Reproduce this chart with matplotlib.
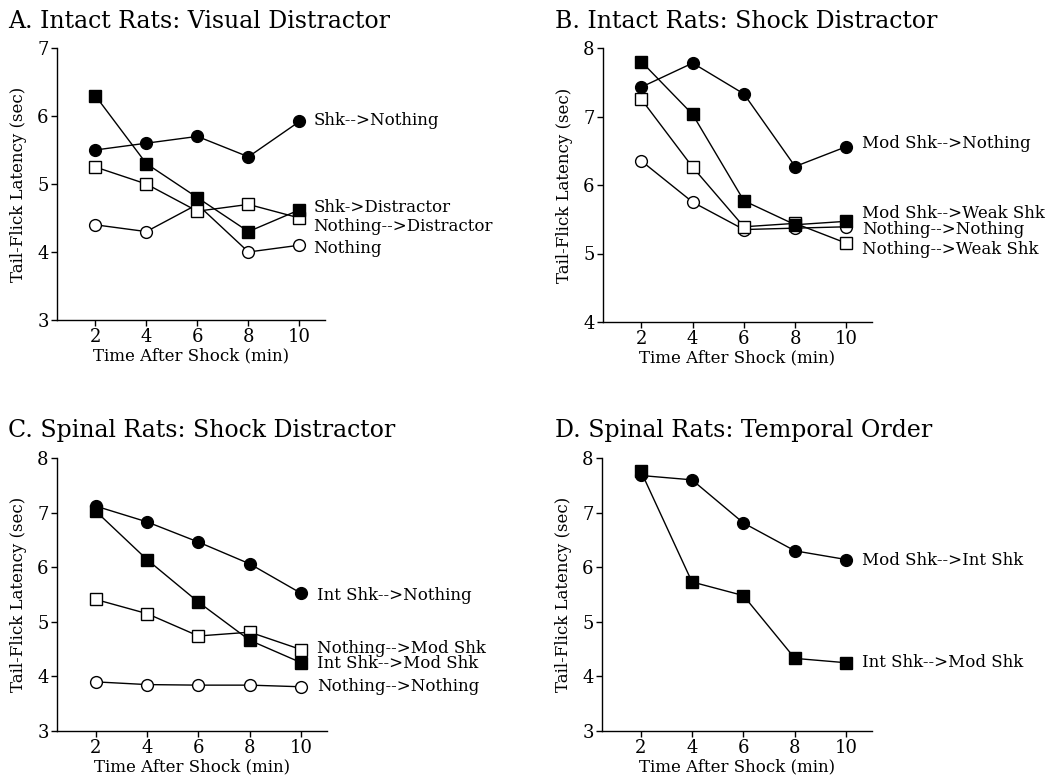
import matplotlib
matplotlib.use("Agg")
import matplotlib.pyplot as plt

plt.rcParams['font.family'] = ['DejaVu Serif']

times = [2, 4, 6, 8, 10]

# A. Intact Rats: Visual Distractor
a_titles = "A. Intact Rats: Visual Distractor"
a_names = ["Shk-->Nothing", "Shk->Distractor", "Nothing-->Distractor", "Nothing"]
a_shk_nothing = [5.5, 5.6, 5.7, 5.4, 5.92]
a_shk_distr = [6.3, 5.3, 4.8, 4.3, 4.62]
a_noth_distr = [5.25, 5.0, 4.6, 4.7, 4.5]
a_nothing = [4.4, 4.3, 4.7, 4.0, 4.1]

# B. Intact Rats: Shock Distractor
b_titles = "B. Intact Rats: Shock Distractor"
b_names = ["Mod Shk-->Nothing", "Mod Shk-->Weak Shk", "Nothing-->Nothing", "Nothing-->Weak Shk"]
b_mod_nothing = [7.43, 7.78, 7.33, 6.27, 6.56]
b_mod_weak = [7.8, 7.03, 5.77, 5.42, 5.47]
b_noth_noth = [6.35, 5.75, 5.35, 5.37, 5.39]
b_noth_weak = [7.25, 6.26, 5.39, 5.44, 5.15]

# C. Spinal Rats: Shock Distractor
c_titles = "C. Spinal Rats: Shock Distractor"
c_names = ["Int Shk-->Nothing", "Nothing-->Mod Shk", "Int Shk-->Mod Shk", "Nothing-->Nothing"]
c_int_nothing = [7.12, 6.83, 6.46, 6.06, 5.52]
c_noth_mod = [5.41, 5.15, 4.74, 4.81, 4.49]
c_int_mod = [7.03, 6.14, 5.36, 4.66, 4.25]
c_noth_noth = [3.9, 3.85, 3.84, 3.84, 3.81]

# D. Spinal Rats: Temporal Order
d_titles = "D. Spinal Rats: Temporal Order"
d_names = ["Mod Shk-->Int Shk", "Int Shk-->Mod Shk"]
d_mod_int = [7.68, 7.6, 6.81, 6.3, 6.14]
d_int_mod = [7.77, 5.73, 5.48, 4.33, 4.25]

W, H = 1061, 776
fig = plt.figure(figsize=(W / 100, H / 100), dpi=100)


def make_ax(l, t, r, b):
    return fig.add_axes([l / W, 1 - b / H, (r - l) / W, (b - t) / H])


def style(ax, ylo, yhi):
    ax.set_xlim(0.5, 11)
    ax.set_ylim(ylo, yhi)
    ax.set_xticks(times)
    ax.set_yticks(range(ylo, yhi + 1))
    for s in ["top", "right"]:
        ax.spines[s].set_visible(False)
    for s in ["left", "bottom"]:
        ax.spines[s].set_linewidth(1.0)
    ax.tick_params(direction="out", length=4, width=1, labelsize=13, pad=2)
    ax.set_xlabel("Time After Shock (min)", fontsize=12, labelpad=1)
    ax.set_ylabel("Tail-Flick Latency (sec)", fontsize=12, labelpad=7)


def series(ax, y, kind):
    mk = {"fc": ("o", "black"), "oc": ("o", "white"),
          "fs": ("s", "black"), "os": ("s", "white")}[kind]
    ax.plot(times, y, color="black", lw=1.0, marker=mk[0], ms=8.5 if mk[0] == "o" else 8,
            mfc=mk[1], mec="black", mew=1.0, clip_on=False, zorder=3)


def label(ax, x, y, txt):
    ax.text(x, y, txt, fontsize=12, va="center", ha="left", clip_on=False)


# Panel A
ax = make_ax(57, 48, 325, 320)
style(ax, 3, 7)
series(ax, a_nothing, "oc")
series(ax, a_noth_distr, "os")
series(ax, a_shk_distr, "fs")
series(ax, a_shk_nothing, "fc")
for txt, yy in zip(a_names, [5.93, 4.66, 4.38, 4.05]):
    label(ax, 10.55, yy, txt)
fig.text(8 / W, 1 - 21 / H, a_titles, fontsize=17, va="center", ha="left")

# Panel B
ax = make_ax(603, 48, 872, 322)
style(ax, 4, 8)
series(ax, b_noth_noth, "oc")
series(ax, b_noth_weak, "os")
series(ax, b_mod_weak, "fs")
series(ax, b_mod_nothing, "fc")
for txt, yy in zip(b_names, [6.6, 5.59, 5.35, 5.06]):
    label(ax, 10.62, yy, txt)
fig.text(555 / W, 1 - 21 / H, b_titles, fontsize=17, va="center", ha="left")

# Panel C
ax = make_ax(57, 458, 327, 731)
style(ax, 3, 8)
series(ax, c_noth_noth, "oc")
series(ax, c_noth_mod, "os")
series(ax, c_int_mod, "fs")
series(ax, c_int_nothing, "fc")
for txt, yy in zip(c_names, [5.48, 4.51, 4.23, 3.82]):
    label(ax, 10.6, yy, txt)
fig.text(8 / W, 1 - 430 / H, c_titles, fontsize=17, va="center", ha="left")

# Panel D
ax = make_ax(602, 458, 872, 731)
style(ax, 3, 8)
series(ax, d_int_mod, "fs")
series(ax, d_mod_int, "fc")
for txt, yy in zip(d_names, [6.13, 4.25]):
    label(ax, 10.62, yy, txt)
fig.text(555 / W, 1 - 430 / H, d_titles, fontsize=17, va="center", ha="left")

fig.savefig("out.png", dpi=100, facecolor="white")
